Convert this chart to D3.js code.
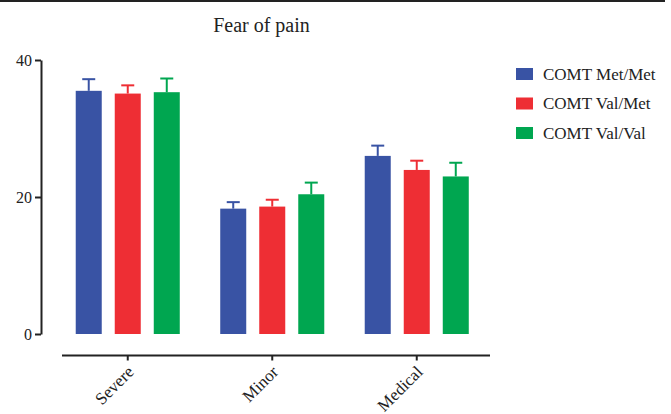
<!DOCTYPE html>
<html>
<head>
<meta charset="utf-8">
<script src="https://cdn.jsdelivr.net/npm/d3@7"></script>
<style>
  body { margin: 0; background: #fff; }
  svg { display: block; font-family: "Liberation Serif", "Times New Roman", serif; }
</style>
</head>
<body>
<svg id="chart"></svg>
<script>
const categories = ['Severe', 'Minor', 'Medical']
const seriesNames = ['COMT Met/Met', 'COMT Val/Met', 'COMT Val/Val']
// mean values per category, one array per genotype
const metMet = [35.5, 18.3, 26.0]
const valMet = [35.1, 18.6, 23.95]
const valVal = [35.3, 20.4, 23.0]
// upper error (mean + SEM)
const metMetErr = [37.2, 19.25, 27.5]
const valMetErr = [36.3, 19.6, 25.3]
const valValErr = [37.3, 22.1, 25.0]
const yTicks = [0, 20, 40]

const colors = ['#3953a4', '#ee2e34', '#00a650']

const W = 671, H = 414

const svg = d3.select('#chart')
  .attr('width', W)
  .attr('height', H)

// top rule
svg.append('line')
  .attr('x1', 0).attr('x2', 665)
  .attr('y1', 1).attr('y2', 1)
  .attr('stroke', '#222')
  .attr('stroke-width', 2)

// title
svg.append('text')
  .attr('x', 261.5)
  .attr('y', 32)
  .attr('text-anchor', 'middle')
  .attr('font-size', '20px')
  .attr('fill', '#222')
  .text('Fear of pain')

const values = [metMet, valMet, valVal]
const errs = [metMetErr, valMetErr, valValErr]

const data = []
categories.forEach((c, i) => {
  seriesNames.forEach((s, j) => {
    data.push({cat: c, series: s, idx: j, value: values[j][i], err: errs[j][i]})
  })
})

// scales
const y = d3.scaleLinear().domain([0, 40]).range([334, 60])
const x0 = d3.scaleBand().domain(categories).range([55.5, 489])

const x1 = d3.scaleBand().domain(seriesNames)
  .range([-x0.step() * 0.405, x0.step() * 0.405])
  .paddingInner(1 / 3)
  .paddingOuter(1 / 6)

// bars
const groups = svg.append('g').attr('class', 'bars')
  .selectAll('g')
  .data(categories)
  .join('g')
  .attr('transform', d => `translate(${x0(d) + x0.bandwidth() / 2},0)`)

const bar = groups.selectAll('g.bar')
  .data(c => data.filter(d => d.cat === c))
  .join('g')
  .attr('class', 'bar')

bar.append('rect')
  .attr('x', d => x1(d.series))
  .attr('width', x1.bandwidth())
  .attr('y', d => y(d.value))
  .attr('height', d => y(0) - y(d.value))
  .attr('fill', d => colors[d.idx])

// error bars, upper only
bar.append('line')
  .attr('x1', d => x1(d.series) + x1.bandwidth() / 2)
  .attr('x2', d => x1(d.series) + x1.bandwidth() / 2)
  .attr('y1', d => y(d.value))
  .attr('y2', d => y(d.err))
  .attr('stroke', d => colors[d.idx])
  .attr('stroke-width', 2)

bar.append('line')
  .attr('x1', d => x1(d.series) + x1.bandwidth() / 2 - 6.5)
  .attr('x2', d => x1(d.series) + x1.bandwidth() / 2 + 6.5)
  .attr('y1', d => y(d.err))
  .attr('y2', d => y(d.err))
  .attr('stroke', d => colors[d.idx])
  .attr('stroke-width', 2)

// y axis
const yAxis = d3.axisLeft(y)
  .tickValues(yTicks)
  .tickSize(6)
  .tickSizeOuter(0)
  .tickPadding(3)

const yG = svg.append('g')
  .attr('transform', 'translate(41,0)')
  .call(yAxis)
yG.selectAll('path, line').attr('stroke', '#222').attr('stroke-width', 2)
yG.selectAll('text')
  .attr('font-family', '"Liberation Serif", serif')
  .attr('font-size', '16px')
  .attr('fill', '#222')

// x axis
const xAxis = d3.axisBottom(x0)
  .tickSize(5)
  .tickSizeOuter(0)
  .tickFormat('')

const xG = svg.append('g')
  .attr('transform', 'translate(0,355.5)')
  .call(xAxis)
xG.select('.domain').attr('d', 'M62,0H490')
xG.selectAll('path, line').attr('stroke', '#222').attr('stroke-width', 2)

// rotated category labels
svg.append('g')
  .selectAll('text')
  .data(categories)
  .join('text')
  .attr('transform', d => `translate(${x0(d) + x0.bandwidth() / 2 + 7},373) rotate(-45)`)
  .attr('text-anchor', 'end')
  .attr('font-size', '17px')
  .attr('fill', '#222')
  .text(d => d)

// legend
const legend = svg.append('g')
  .attr('transform', 'translate(516,74)')

const item = legend.selectAll('g')
  .data(seriesNames)
  .join('g')
  .attr('transform', (d, i) => `translate(0,${i * 29.5})`)

item.append('rect')
  .attr('x', 0)
  .attr('y', -6)
  .attr('width', 17)
  .attr('height', 12)
  .attr('fill', (d, i) => colors[i])

item.append('text')
  .attr('x', 27)
  .attr('y', 5.5)
  .attr('font-size', '17px')
  .attr('fill', '#222')
  .text(d => d)
</script>
</body>
</html>
